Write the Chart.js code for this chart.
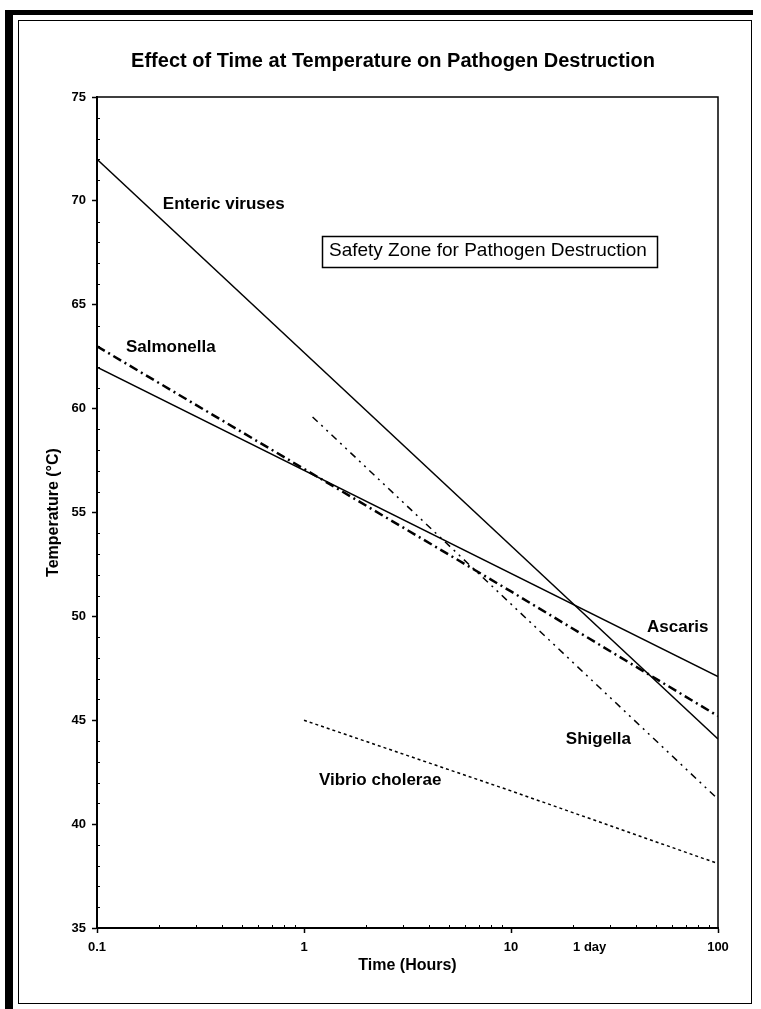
<!DOCTYPE html>
<html>
<head>
<meta charset="utf-8">
<title>Effect of Time at Temperature on Pathogen Destruction</title>
<script src="https://cdn.jsdelivr.net/npm/chart.js@4/dist/chart.umd.min.js"></script>
<style>
    body { margin: 0; background: #fff; }
    #wrap { position: relative; width: 761px; height: 1009px; }
    #chart { position: absolute; left: 0; top: 0; }
    /* scanned page frame */
    .band-left { position: absolute; left: 5px; top: 10px; width: 8px; height: 999px; background: #000; }
    .band-top { position: absolute; left: 5px; top: 10px; width: 748px; height: 5px; background: #000; }
    .frame { position: absolute; left: 18px; top: 20px; width: 732px; height: 982px; border: 1.5px solid #000; }
</style>
</head>
<body>
<div id="wrap">
    <canvas id="chart" width="761" height="1009"></canvas>
    <div class="band-left"></div>
    <div class="band-top"></div>
    <div class="frame"></div>
</div>
<script>
// Time in hours (log axis), temperature in °C
const entericTime = [0.1, 100];
const entericTemp = [72, 44.1];

const ascarisTime = [0.1, 100];
const ascarisTemp = [62, 47.1];

const salmonellaTime = [0.1, 1, 10, 100];
const salmonellaTemp = [63, 57.1, 51.2, 45.2];

const shigellaTime = [1.1, 100];
const shigellaTemp = [59.6, 41.2];

const vibrioTime = [1, 10, 100];
const vibrioTemp = [45, 41.6, 38.1];

// Axis ticks
const xTicks = [0.1, 1, 10, 24, 100];
const xTickLabels = ['0.1', '1', '10', '1 day', '100'];
const yTicks = [35, 40, 45, 50, 55, 60, 65, 70, 75];
const xMinor = [0.2, 0.3, 0.4, 0.5, 0.6, 0.7, 0.8, 0.9, 2, 3, 4, 5, 6, 7, 8, 9, 20, 30, 40, 50, 60, 70, 80, 90];

const chartTitle = 'Effect of Time at Temperature on Pathogen Destruction';

// Text written on the plot (time, temperature of label anchor)
const notes = [
    { text: 'Enteric viruses', x: 0.208, y: 69.85 },
    { text: 'Salmonella', x: 0.138, y: 62.95 },
    { text: 'Ascaris', x: 45.4, y: 49.45 },
    { text: 'Shigella', x: 18.4, y: 44.1 },
    { text: 'Vibrio cholerae', x: 1.18, y: 42.1 }
];
const safetyNote = { text: 'Safety Zone for Pathogen Destruction', x: 1.32, y: 67.6 };

const FONT = '"Liberation Sans", Arial, sans-serif';

function toPoints(xs, ys) {
    return xs.map((x, i) => ({ x: x, y: ys[i] }));
}

function series(label, xs, ys, width, dash) {
    return {
        label: label,
        data: toPoints(xs, ys),
        borderColor: '#000',
        borderWidth: width,
        borderDash: dash,
        pointRadius: 0,
        tension: 0,
        fill: false
    };
}

// Title, frame, minor ticks and the text notes
const extrasPlugin = {
    id: 'extras',
    afterDraw(chart) {
        const ctx = chart.ctx;
        const area = chart.chartArea;
        const xs = chart.scales.x;
        const ys = chart.scales.y;
        ctx.save();

        // title sits a bit right of the plot centre in the original
        ctx.fillStyle = '#000';
        ctx.textAlign = 'center';
        ctx.textBaseline = 'middle';
        ctx.font = 'bold 20px ' + FONT;
        ctx.fillText(chartTitle, 393, 61);

        // top and right edges of the plot box
        ctx.strokeStyle = '#000';
        ctx.lineWidth = 1.5;
        ctx.beginPath();
        ctx.moveTo(area.left, area.top);
        ctx.lineTo(area.right, area.top);
        ctx.lineTo(area.right, area.bottom);
        ctx.stroke();

        // minor ticks
        ctx.lineWidth = 1;
        ctx.beginPath();
        for (let v = 36; v < 75; v++) {
            if (v % 5 === 0) continue;
            const py = Math.round(ys.getPixelForValue(v)) + 0.5;
            ctx.moveTo(area.left, py);
            ctx.lineTo(area.left + 3, py);
        }
        xMinor.forEach(v => {
            const px = Math.round(xs.getPixelForValue(v)) + 0.5;
            ctx.moveTo(px, area.bottom);
            ctx.lineTo(px, area.bottom - 3);
        });
        ctx.stroke();

        // labels
        ctx.textAlign = 'left';
        ctx.font = 'bold 17px ' + FONT;
        notes.forEach(n => {
            ctx.fillText(n.text, xs.getPixelForValue(n.x), ys.getPixelForValue(n.y));
        });

        // boxed note
        ctx.font = '19px ' + FONT;
        const sx = xs.getPixelForValue(safetyNote.x);
        const sy = ys.getPixelForValue(safetyNote.y);
        const w = ctx.measureText(safetyNote.text).width;
        ctx.fillText(safetyNote.text, sx, sy);
        ctx.lineWidth = 1.5;
        ctx.strokeRect(Math.round(sx - 7) + 0.5, Math.round(sy - 15) + 0.5, Math.round(w + 17), 31);

        ctx.restore();
    }
};

new Chart(document.getElementById('chart'), {
    type: 'line',
    data: {
        datasets: [
            series('Enteric viruses', entericTime, entericTemp, 1.5, []),
            series('Ascaris', ascarisTime, ascarisTemp, 1.5, []),
            series('Salmonella', salmonellaTime, salmonellaTemp, 2.5, [9, 4, 2, 4]),
            series('Shigella', shigellaTime, shigellaTemp, 1.5, [7, 5, 2, 5, 2, 5]),
            series('Vibrio cholerae', vibrioTime, vibrioTemp, 1.5, [3, 3])
        ]
    },
    options: {
        responsive: false,
        animation: false,
        layout: { padding: { left: 40, right: 43, top: 97, bottom: 0 } },
        plugins: {
            legend: { display: false },
            tooltip: { enabled: false },
            title: { display: false }
        },
        scales: {
            x: {
                type: 'logarithmic',
                min: 0.1,
                max: 100,
                afterBuildTicks: scale => { scale.ticks = xTicks.map(v => ({ value: v })); },
                afterFit: scale => { scale.height = 81; },
                ticks: {
                    color: '#000',
                    padding: 7,
                    maxRotation: 0,
                    autoSkip: false,
                    font: { family: FONT, size: 13, weight: 'bold' },
                    callback: (value, index) => xTickLabels[index]
                },
                grid: {
                    drawOnChartArea: false,
                    tickLength: 5,
                    tickWidth: 1.5,
                    tickColor: c => (c.tick && c.tick.value === 24) ? 'rgba(0,0,0,0)' : '#000'
                },
                border: { display: true, color: '#000', width: 2 },
                title: {
                    display: true,
                    text: 'Time (Hours)',
                    color: '#000',
                    font: { family: FONT, size: 16, weight: 'bold' },
                    padding: { top: 0, bottom: 33.5 }
                }
            },
            y: {
                min: 35,
                max: 75,
                afterBuildTicks: scale => { scale.ticks = yTicks.map(v => ({ value: v })); },
                afterFit: scale => { scale.width = 57; },
                ticks: {
                    color: '#000',
                    padding: 6,
                    font: { family: FONT, size: 13, weight: 'bold' }
                },
                grid: {
                    drawOnChartArea: false,
                    tickLength: 5,
                    tickWidth: 1.5,
                    tickColor: '#000'
                },
                border: { display: true, color: '#000', width: 2 },
                title: {
                    display: true,
                    text: 'Temperature (°C)',
                    color: '#000',
                    font: { family: FONT, size: 16, weight: 'bold' },
                    padding: { top: 4, bottom: 0 }
                }
            }
        }
    },
    plugins: [extrasPlugin]
});
</script>
</body>
</html>
